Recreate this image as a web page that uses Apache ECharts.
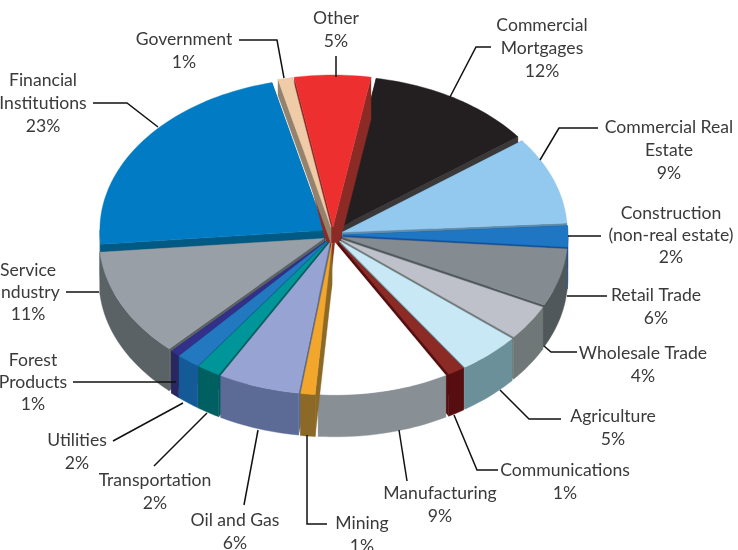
<!DOCTYPE html>
<html>
<head>
<meta charset="utf-8">
<style>html,body{margin:0;padding:0;background:#fff}#c{width:738px;height:550px}</style>
<script src="https://cdn.jsdelivr.net/npm/echarts@6/dist/echarts.min.js"></script>
</head>
<body>
<div id="c"></div>
<script>
var categories = ['Other','Commercial Mortgages','Commercial Real Estate','Construction (non-real estate)','Retail Trade','Wholesale Trade','Agriculture','Communications','Manufacturing','Mining','Oil and Gas','Transportation','Utilities','Forest Products','Service Industry','Financial Institutions','Government'];
var values = [5.45,12.03,9.3,2.22,6.11,3.75,4.5,1.22,9.36,1.03,5.83,1.67,1.67,0.69,11.47,22.67,1.03];
var topColors = ['#ED2F2F','#231F20','#93C9EE','#1F77C3','#848C92','#BEC1C9','#C9E8F5','#8C2B25','#FFFFFF','#F2A62B','#97A3D2','#009699','#2279C0','#33308B','#989FA6','#007BC4','#EFCBA8'];
var sideColors = ['#8C2A25','#3A3839','#5F8CAB','#1050A0','#50585C','#6F7777','#6C9099','#570E10','#888F95','#8C6926','#5C6A96','#005F60','#135A96','#2A2760','#5B6266','#005A84','#94826C'];

// Layout of the label blocks: text lines, centre x, line middles y, leader path
var labelLayout = [
 {lines:['Other'],x:336,y:[18],leader:[[336,56],[336,77]]},
 {lines:['Commercial','Mortgages'],x:542,y:[25,48],leader:[[491,47],[476,47],[450,97]]},
 {lines:['Commercial Real','Estate'],x:669,y:[127,150],leader:[[598,128],[559,128],[540,160]]},
 {lines:['Construction','(non-real estate)'],x:671,y:[213,235],leader:[[568,236],[601,236]]},
 {lines:['Retail Trade'],x:656,y:[295],leader:[[567,296],[607,296]]},
 {lines:['Wholesale Trade'],x:643,y:[353],leader:[[544,346],[551,352],[577,352]]},
 {lines:['Agriculture'],x:613,y:[416],leader:[[500,390],[529,419],[561,419]]},
 {lines:['Communications'],x:565,y:[470],leader:[[454,415],[477,470],[498,470]]},
 {lines:['Manufacturing'],x:440,y:[493],leader:[[399,430],[407,481]]},
 {lines:['Mining'],x:362,y:[523],leader:[[307,435],[307,524],[327,524]]},
 {lines:['Oil and Gas'],x:235,y:[520],leader:[[258,430],[244,505]]},
 {lines:['Transportation'],x:155,y:[480],leader:[[207,413],[154,466]]},
 {lines:['Utilities'],x:77,y:[440],leader:[[183,403],[113,441]]},
 {lines:['Forest','Products'],x:33,y:[360,382],leader:[[176,382],[73,382]]},
 {lines:['Service','Industry'],x:28,y:[270,292],leader:[[99,292],[66,292]]},
 {lines:['Financial','Institutions'],x:43,y:[80,103],leader:[[93,103],[127,103],[158,127]]},
 {lines:['Government'],x:184,y:[39],leader:[[239,40],[277,40],[284,78]]}
];
var geom = {cx:333, cy:235, rx:225, ry:152, ex:10, ey:8, depth:42, startDeg:-9.9};
var pctStep = 360 / values.reduce(function(a,b){return a+b;},0);
var zOverride = {0:180, 16:180};   // back slices whose cut faces sit over their neighbours
var faceDepth = {16:16};           // shallower visible cut face

function pt(c, t, dy){
  var r = t*Math.PI/180;
  return [c[0]+geom.rx*Math.sin(r), c[1]-geom.ry*Math.cos(r)+(dy||0)];
}
function arc(c, a, b, dy){
  var n = Math.max(2, Math.ceil(Math.abs(b-a)/1.5)), out = [];
  for(var i=0;i<=n;i++) out.push(pt(c, a+(b-a)*i/n, dy));
  return out;
}
function renderItem(params, api){
  var idx = params.dataIndex, cum = 0;
  for(var i=0;i<idx;i++) cum += values[i];
  var v = api.value(0);
  var a = geom.startDeg + cum*pctStep, b = a + v*pctStep, m = (a+b)/2;
  var mr = m*Math.PI/180;
  var c = [geom.cx+geom.ex*Math.sin(mr), geom.cy-geom.ey*Math.cos(mr)];
  var z = zOverride[idx] || Math.round(c[1]-geom.ry*Math.cos(mr)*0.66);
  var top = topColors[idx], side = sideColors[idx];
  var kids = [];
  function poly(points, fill, zz){
    kids.push({type:'polygon', shape:{points:points}, z2:zz,
      style:{fill:fill, stroke:fill, lineWidth:0.4}});
  }
  var d = geom.depth, fd = faceDepth[idx] || d;
  [a,b].forEach(function(t){
    var e = pt(c,t);
    poly([c, e, [e[0],e[1]+fd], [c[0],c[1]+fd]], side, z);
  });
  var w1 = Math.max(a,90), w2 = Math.min(b,270);
  if(w2>w1){
    poly(arc(c,w1,w2,0).concat(arc(c,w2,w1,d)), side, z+0.2);
  }
  poly([c].concat(arc(c,a,b,0)), top, z+0.4);
  return {type:'group', children:kids};
}

var labelGraphics = [];
labelLayout.forEach(function(L,i){
  labelGraphics.push({type:'polyline', shape:{points:L.leader}, z:10,
    style:{stroke:'#111', lineWidth:1.5, fill:null}});
  var lines = L.lines.concat([Math.round(values[i])+'%']);
  lines.forEach(function(t,k){
    var y = k<L.y.length ? L.y[k] : L.y[L.y.length-1]+ (L.y.length>1 ? L.y[1]-L.y[0] : 23);
    labelGraphics.push({type:'text', x:L.x, y:y+0.2, z:11,
      style:{text:t, fill:'#3a3a3a', font:'17.6px Lato', textAlign:'center', textVerticalAlign:'middle'}});
  });
});

var chart = echarts.init(document.getElementById('c'));
chart.setOption({
  animation:false,
  backgroundColor:'#fff',
  graphic:labelGraphics,
  series:[{type:'custom', coordinateSystem:'none', name:'Share', silent:true,
    renderItem:renderItem,
    data:values.map(function(v,i){return {name:categories[i], value:[v]};})}]
});
</script>
</body>
</html>
